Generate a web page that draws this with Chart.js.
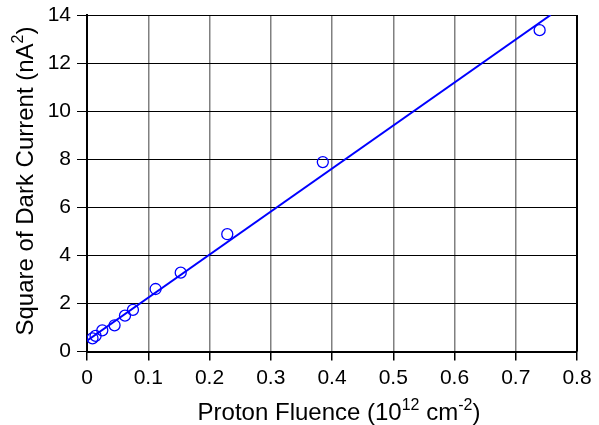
<!DOCTYPE html>
<html>
<head>
<meta charset="utf-8">
<script src="https://cdn.jsdelivr.net/npm/chart.js@4.4.1/dist/chart.umd.min.js"></script>
<style>
  html, body { margin: 0; padding: 0; background: #fff; }
  #wrap { width: 599px; height: 425px; }
</style>
</head>
<body>
<div id="wrap"><canvas id="fluence"></canvas></div>
<script>
// measured points: proton fluence (10^12 cm^-2) vs square of dark current (nA^2)
const fluence = [0.009, 0.014, 0.025, 0.045, 0.062, 0.075, 0.112, 0.153, 0.229, 0.385, 0.739];
const darkCurrentSq = [0.55, 0.65, 0.88, 1.09, 1.49, 1.73, 2.60, 3.28, 4.88, 7.88, 13.37];

// straight fit line, end points
const fitX = [0, 0.757];
const fitY = [0.45, 14];

const xTicks = [0, 0.1, 0.2, 0.3, 0.4, 0.5, 0.6, 0.7, 0.8];
const yTicks = [0, 2, 4, 6, 8, 10, 12, 14];

const FONT = '"Liberation Sans", Arial, Helvetica, sans-serif';

function toPoints(xs, ys) {
	var result = [];
	for (var i = 0; i < xs.length; i++) {
		result.push({ x: xs[i], y: ys[i] });
	}
	return result;
}

// draws a string made of [text, isSuperscript] pieces, centered on 0
function drawRich(ctx, parts, size) {
	var supSize = Math.round(size * 0.68);
	var widths = [];
	var total = 0;
	parts.forEach(function (p) {
		ctx.font = (p[1] ? supSize : size) + 'px ' + FONT;
		var w = ctx.measureText(p[0]).width;
		widths.push(w);
		total += w;
	});
	var x = -total / 2;
	parts.forEach(function (p, i) {
		ctx.font = (p[1] ? supSize : size) + 'px ' + FONT;
		ctx.fillText(p[0], x, p[1] ? -size * 0.42 : 0);
		x += widths[i];
	});
}

const titlesPlugin = {
	id: 'titles',
	afterDraw(chart) {
		const ctx = chart.ctx;
		const area = chart.chartArea;
		ctx.save();
		ctx.fillStyle = '#000';
		ctx.textBaseline = 'alphabetic';
		ctx.textAlign = 'left';

		// right frame edge
		ctx.strokeStyle = '#000';
		ctx.lineWidth = 2;
		ctx.beginPath();
		ctx.moveTo(area.right, area.top);
		ctx.lineTo(area.right, area.bottom);
		ctx.stroke();

		// x title
		ctx.save();
		ctx.translate(339, 420);
		drawRich(ctx, [['Proton Fluence (10', false], ['12', true], [' cm', false], ['-2', true], [')', false]], 24);
		ctx.restore();

		// y title
		ctx.save();
		ctx.translate(33, 181);
		ctx.rotate(-Math.PI / 2);
		drawRich(ctx, [['Square of Dark Current (nA', false], ['2', true], [')', false]], 24);
		ctx.restore();

		ctx.restore();
	}
};

let chart = new Chart(document.getElementById('fluence').getContext('2d'), {
	type: 'scatter',
	data: {
		datasets: [
			{
				label: 'fit',
				type: 'line',
				data: toPoints(fitX, fitY),
				borderColor: '#0000ff',
				borderWidth: 2,
				pointRadius: 0,
				fill: false,
				order: 2
			},
			{
				label: 'data',
				data: toPoints(fluence, darkCurrentSq),
				pointStyle: 'circle',
				pointRadius: 5.5,
				pointBorderWidth: 1.3,
				borderColor: '#0000ff',
				backgroundColor: 'rgba(0,0,0,0)',
				order: 1
			}
		]
	},
	options: {
		responsive: true,
		maintainAspectRatio: false,
		animation: false,
		layout: { padding: { left: 0, top: 15, right: 22, bottom: 0 } },
		plugins: {
			legend: { display: false },
			tooltip: { enabled: false }
		},
		scales: {
			x: {
				type: 'linear',
				min: 0,
				max: 0.8,
				afterBuildTicks: function (scale) {
					scale.ticks = xTicks.map(function (v) { return { value: v }; });
				},
				afterFit: function (scale) {
					scale.height = 73.5;
					scale.paddingLeft = 0;
					scale.paddingRight = 0;
				},
				ticks: {
					color: '#000',
					font: { family: FONT, size: 21 },
					padding: 5,
					maxRotation: 0,
					callback: function (v) { return v === 0 ? '0' : v.toFixed(1); }
				},
				grid: {
					color: '#808080',
					lineWidth: 1.5,
					tickColor: '#000',
					tickLength: 9
				},
				border: { color: '#000', width: 2 }
			},
			y: {
				type: 'linear',
				min: 0,
				max: 14,
				afterBuildTicks: function (scale) {
					scale.ticks = yTicks.map(function (v) { return { value: v }; });
				},
				afterFit: function (scale) {
					scale.width = 87;
					scale.paddingTop = 0;
					scale.paddingBottom = 0;
				},
				ticks: {
					color: '#000',
					font: { family: FONT, size: 21 },
					padding: 6
				},
				grid: {
					color: '#000',
					lineWidth: 1,
					tickColor: '#000',
					tickLength: 10
				},
				border: { color: '#000', width: 2 }
			}
		}
	},
	plugins: [titlesPlugin]
});
</script>
</body>
</html>
